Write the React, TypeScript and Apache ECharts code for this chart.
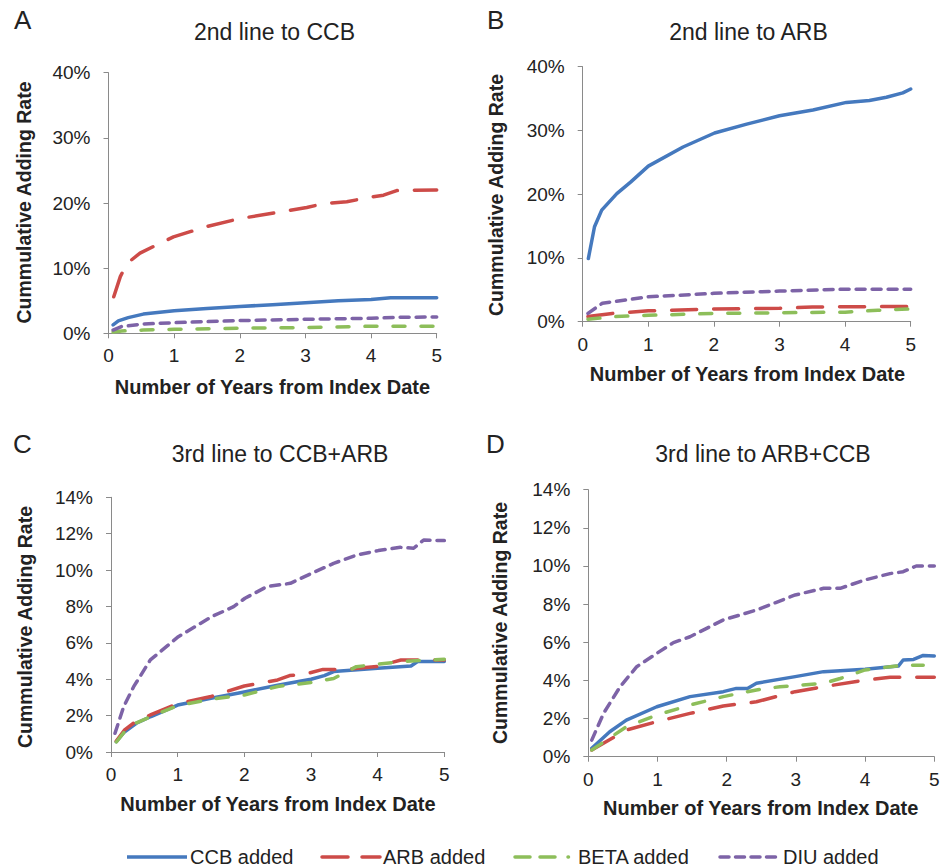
import React, { useEffect, useRef } from "react";
import * as echarts from "echarts";

// ---------- data (x = years from index date, y = cumulative adding rate %) ----------
const panelTitles = ["2nd line to CCB", "2nd line to ARB", "3rd line to CCB+ARB", "3rd line to ARB+CCB"];
const panelLetters = ["A", "B", "C", "D"];
const seriesNames = ["CCB added", "ARB added", "BETA added", "DIU added"];
const xTicks = [0, 1, 2, 3, 4, 5];
const yMaxes = [40, 40, 14, 14];
const yIntervals = [10, 10, 2, 2];

const aCCB = [[0.07, 1.3], [0.15, 1.9], [0.3, 2.4], [0.53, 2.95], [1.0, 3.45], [1.5, 3.8], [2.0, 4.1], [2.5, 4.4], [3.0, 4.7], [3.5, 5.0], [4.0, 5.2], [4.3, 5.45], [5.0, 5.45]];
const aARB = [[0.08, 5.6], [0.18, 8.7], [0.28, 10.7], [0.48, 12.3], [0.74, 13.6], [0.99, 14.8], [1.5, 16.4], [2.0, 17.6], [2.66, 18.7], [3.02, 19.3], [3.27, 19.9], [3.63, 20.2], [4.0, 20.9], [4.19, 21.2], [4.39, 21.9], [5.0, 22.0]];
const aBETA = [[0.07, 0.2], [0.2, 0.35], [0.53, 0.5], [1.0, 0.62], [2.0, 0.78], [3.0, 0.88], [3.7, 1.0], [4.0, 1.1], [5.0, 1.1]];
const aDIU = [[0.07, 0.5], [0.2, 1.05], [0.53, 1.43], [1.0, 1.63], [2.0, 1.95], [3.0, 2.15], [4.0, 2.3], [4.4, 2.45], [5.0, 2.5]];

const bCCB = [[0.086, 9.9], [0.18, 14.9], [0.29, 17.5], [0.52, 20.1], [0.73, 21.9], [1.0, 24.4], [1.53, 27.4], [2.01, 29.6], [2.5, 31.0], [3.0, 32.3], [3.51, 33.2], [4.02, 34.4], [4.37, 34.7], [4.63, 35.2], [4.88, 35.9], [5.0, 36.5]];
const bARB = [[0.08, 0.8], [0.45, 1.3], [1.0, 1.7], [2.0, 2.0], [3.0, 2.1], [3.5, 2.3], [5.0, 2.4]];
const bBETA = [[0.08, 0.4], [0.5, 0.8], [1.0, 1.0], [2.0, 1.3], [3.0, 1.4], [4.0, 1.5], [4.5, 1.8], [5.0, 2.0]];
const bDIU = [[0.08, 1.3], [0.3, 2.9], [1.0, 3.9], [2.0, 4.45], [3.0, 4.8], [4.0, 5.1], [5.0, 5.1]];

const cCCB = [[0.08, 0.57], [0.2, 1.1], [0.38, 1.58], [0.6, 1.95], [1.0, 2.58], [1.5, 2.95], [2.0, 3.3], [2.5, 3.67], [3.0, 4.0], [3.2, 4.2], [3.34, 4.42], [4.0, 4.6], [4.5, 4.73], [4.6, 4.97], [5.0, 4.97]];
const cARB = [[0.08, 0.6], [0.2, 1.2], [0.38, 1.7], [0.6, 2.05], [1.0, 2.66], [1.5, 3.05], [2.0, 3.63], [2.5, 3.96], [2.68, 4.2], [2.9, 4.27], [3.18, 4.54], [3.5, 4.54], [4.0, 4.7], [4.35, 5.06], [5.0, 5.06]];
const cBETA = [[0.08, 0.55], [0.2, 1.1], [0.38, 1.6], [0.6, 1.95], [1.0, 2.55], [1.5, 2.9], [2.0, 3.13], [2.5, 3.6], [3.0, 3.82], [3.34, 4.04], [3.68, 4.69], [4.0, 4.82], [4.35, 4.97], [5.0, 5.1]];
const cDIU = [[0.06, 1.03], [0.19, 2.49], [0.34, 3.59], [0.59, 5.06], [1.01, 6.34], [1.51, 7.44], [1.84, 7.99], [2.01, 8.45], [2.34, 9.09], [2.69, 9.27], [3.01, 9.82], [3.34, 10.37], [3.69, 10.83], [4.01, 11.07], [4.34, 11.25], [4.54, 11.2], [4.69, 11.65], [5.0, 11.62]];

const dCCB = [[0.05, 0.44], [0.31, 1.31], [0.55, 1.92], [0.99, 2.62], [1.47, 3.15], [1.95, 3.41], [2.14, 3.58], [2.3, 3.58], [2.43, 3.85], [2.99, 4.2], [3.4, 4.46], [4.0, 4.58], [4.48, 4.75], [4.55, 5.07], [4.7, 5.1], [4.84, 5.31], [5.0, 5.28]];
const dARB = [[0.05, 0.35], [0.55, 1.4], [0.99, 1.84], [1.47, 2.27], [1.95, 2.66], [2.43, 2.88], [2.99, 3.41], [3.4, 3.67], [4.0, 4.02], [4.36, 4.16], [5.0, 4.16]];
const dBETA = [[0.05, 0.35], [0.55, 1.57], [0.99, 2.18], [1.47, 2.71], [1.95, 3.15], [2.43, 3.5], [2.77, 3.67], [3.1, 3.76], [3.4, 3.85], [3.64, 4.1], [4.0, 4.55], [4.36, 4.72], [4.6, 4.8], [4.84, 4.8]];
const dDIU = [[0.05, 0.87], [0.22, 2.27], [0.46, 3.67], [0.7, 4.72], [0.99, 5.42], [1.23, 5.98], [1.47, 6.29], [1.95, 7.17], [2.43, 7.69], [2.99, 8.48], [3.4, 8.83], [3.64, 8.83], [4.0, 9.27], [4.36, 9.6], [4.55, 9.7], [4.74, 10.0], [5.0, 10.0]];

const panelData = [
  [aCCB, aARB, aBETA, aDIU],
  [bCCB, bARB, bBETA, bDIU],
  [cCCB, cARB, cBETA, cDIU],
  [dCCB, dARB, dBETA, dDIU],
];

// ---------- styles / layout ----------
const COLORS = ["#4579BE", "#CD4B48", "#8DBE5A", "#7D63A7"];
const DASHES: any[] = ["solid", [25, 17], [12, 16], [9, 7]];
const LW = 3.5;
const FONT = "Liberation Sans, Arial, Helvetica, sans-serif";
const TXT = "#222222";
const AXIS = "#8a8a8a";

const grids = [
  { left: 108.5, top: 72.7, width: 328.2, height: 260.6 },
  { left: 582.7, top: 66.7, width: 328, height: 255 },
  { left: 111, top: 497.3, width: 333.3, height: 254.7 },
  { left: 588.3, top: 489.7, width: 346, height: 267 },
];
const titlePos = [[274.5, 32], [748.5, 32], [280, 454], [763, 454]];
const letterPos = [[14, 20], [487, 20], [13, 444], [486, 444]];
const yTitlePos = [[24, 202.5], [495.5, 195], [25, 627], [500, 623]];
const xTitlePos = [[272.5, 387], [747.5, 374], [278, 804], [760.7, 808]];
const legendLines = [[127, 187], [322, 380], [515, 575], [720, 780]];
const legendDash: any[] = [null, [26, 14], [15, 10, 15, 13, 0.5, 20], [9, 6.5]];
const LEGEND_Y = 857;

export default function App() {
  const ref = useRef<HTMLDivElement>(null);
  useEffect(() => {
    if (!ref.current) return;
    const chart = echarts.init(ref.current, undefined, { renderer: "svg" });

    const xAxis = grids.map((_, i) => ({
      type: "value",
      gridIndex: i,
      min: 0,
      max: 5,
      interval: 1,
      axisLine: { show: true, lineStyle: { color: AXIS, width: 1 } },
      axisTick: { show: true, inside: false, length: 5, lineStyle: { color: AXIS } },
      splitLine: { show: false },
      axisLabel: { color: TXT, fontSize: 19, fontFamily: FONT, margin: 13 },
    }));
    const yAxis = grids.map((_, i) => ({
      type: "value",
      gridIndex: i,
      min: 0,
      max: yMaxes[i],
      interval: yIntervals[i],
      axisLine: { show: true, lineStyle: { color: AXIS, width: 1 } },
      axisTick: { show: true, inside: false, length: 5, lineStyle: { color: AXIS } },
      splitLine: { show: false },
      axisLabel: { color: TXT, fontSize: 19, fontFamily: FONT, margin: 18, formatter: (v: number) => v + "%" },
    }));

    const series: any[] = [];
    panelData.forEach((sets, gi) => {
      sets.forEach((data, si) => {
        series.push({
          type: "line",
          name: seriesNames[si],
          xAxisIndex: gi,
          yAxisIndex: gi,
          data,
          symbol: "none",
          smooth: false,
          lineStyle: { color: COLORS[si], width: LW, type: DASHES[si], cap: "round", join: "round" },
          z: 2 + si,
        });
      });
    });

    const graphic: any[] = [];
    for (let i = 0; i < 4; i++) {
      graphic.push({
        type: "text", x: titlePos[i][0], y: titlePos[i][1],
        style: { text: panelTitles[i], font: `23px ${FONT}`, fill: TXT, textAlign: "center", textVerticalAlign: "middle" },
      });
      graphic.push({
        type: "text", x: letterPos[i][0], y: letterPos[i][1],
        style: { text: panelLetters[i], font: `26px ${FONT}`, fill: TXT, textAlign: "left", textVerticalAlign: "middle" },
      });
      graphic.push({
        type: "text", x: yTitlePos[i][0], y: yTitlePos[i][1], rotation: Math.PI / 2,
        style: { text: "Cummulative Adding Rate", font: `bold 19.5px ${FONT}`, fill: TXT, textAlign: "center", textVerticalAlign: "middle" },
      });
      graphic.push({
        type: "text", x: xTitlePos[i][0], y: xTitlePos[i][1],
        style: { text: "Number of Years from Index Date", font: `bold 20px ${FONT}`, fill: TXT, textAlign: "center", textVerticalAlign: "middle" },
      });
    }
    for (let i = 0; i < 4; i++) {
      const [x1, x2] = legendLines[i];
      graphic.push({
        type: "line",
        shape: { x1, y1: LEGEND_Y, x2, y2: LEGEND_Y },
        style: { stroke: COLORS[i], lineWidth: LW, lineDash: legendDash[i], lineCap: i === 0 ? "butt" : "round" },
      });
      graphic.push({
        type: "text", x: x2 + 3, y: LEGEND_Y,
        style: { text: seriesNames[i], font: `20px ${FONT}`, fill: TXT, textAlign: "left", textVerticalAlign: "middle" },
      });
    }

    chart.setOption({
      animation: false,
      backgroundColor: "#ffffff",
      grid: grids.map((g) => ({ ...g, containLabel: false })),
      xAxis,
      yAxis,
      series,
      graphic,
    });
    return () => chart.dispose();
  }, []);

  return <div ref={ref} style={{ position: "fixed", left: 0, top: 0, width: 949, height: 868 }} />;
}
